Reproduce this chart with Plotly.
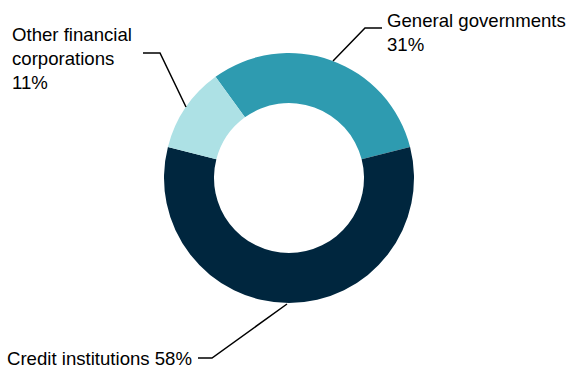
import plotly.graph_objects as go

# Holdings by sector (share of total, %)
sectors = ["General governments", "Credit institutions", "Other financial corporations"]
shares = [31, 58, 11]
colors = ["#2e9bb0", "#00263e", "#ade1e5"]

W, H = 568, 368


def px(x):
    return x / W


def py(y):
    return 1 - y / H


fig = go.Figure(
    go.Pie(
        labels=sectors,
        values=shares,
        hole=0.6,
        sort=False,
        direction="clockwise",
        rotation=-36,
        marker=dict(colors=colors, line=dict(width=0)),
        textinfo="none",
        hoverinfo="label+percent",
        showlegend=False,
        domain=dict(x=[px(164), px(414)], y=[py(303), py(53)]),
    )
)

font = dict(family="Liberation Sans, Arial, sans-serif", size=18.6, color="#000000")

# Labels with elbow leader lines
labels = [
    dict(text=f"{sectors[0]}<br>{shares[0]}%", x=385, y=8, xanchor="left",
         line=[(333, 61), (365, 28), (382, 28)]),
    dict(text=f"Other financial<br>corporations<br>{shares[2]}%", x=10, y=22, xanchor="left",
         line=[(186, 107), (160, 53), (143, 53)]),
    dict(text=f"{sectors[1]} {shares[1]}%", x=5, y=346, xanchor="left",
         line=[(287, 304), (212, 358), (198, 358)]),
]

for lab in labels:
    fig.add_annotation(
        text=lab["text"], x=px(lab["x"]), y=py(lab["y"]), xref="paper", yref="paper",
        xanchor=lab["xanchor"], yanchor="top", align="left", showarrow=False, font=font,
    )
    pts = lab["line"]
    path = "M " + " L ".join(f"{px(a)},{py(b)}" for a, b in pts)
    fig.add_shape(type="path", path=path, xref="paper", yref="paper",
                  line=dict(color="#000000", width=1.5))

fig.update_layout(
    width=W, height=H,
    margin=dict(l=0, r=0, t=0, b=0),
    paper_bgcolor="#ffffff",
    plot_bgcolor="#ffffff",
)

fig.write_html("out.html")
